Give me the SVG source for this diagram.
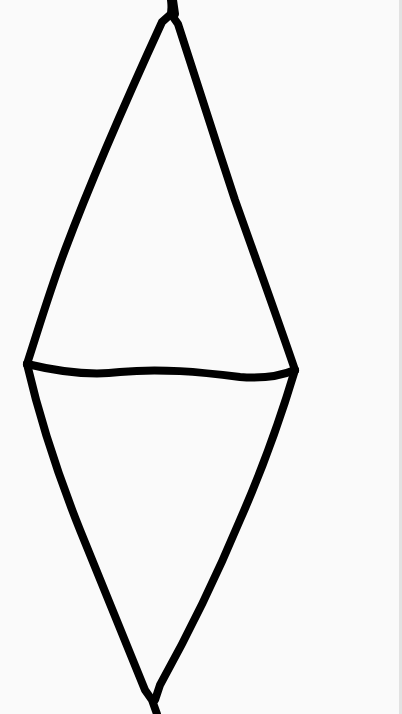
<svg xmlns="http://www.w3.org/2000/svg" width="402" height="714" viewBox="0 0 402 714">
<style>
.s{fill:none;stroke:#000;stroke-width:8;stroke-linecap:round;stroke-linejoin:round}
</style>
<rect x="0" y="0" width="402" height="714" fill="#fafafa"/>
<rect x="399" y="0" width="3" height="714" fill="#e2e2e2"/>
<g id="shape">
<path class="s" d="M172,0 L171,14 L162,22 C140,70 95,170 65,250 C50,290 38,330 27,364"/>
<path class="s" d="M171,14 L178,24 C195,75 215,140 235,200 C258,265 278,320 295,370"/>
<path class="s" d="M172,0 L174,14" style="stroke-width:10"/>
<path class="s" d="M27,364 C60,372 90,376 120,372 C160,368 200,372 240,377 C265,379 283,375 295,370"/>
<path class="s" d="M27,364 C40,420 60,480 80,530 C100,580 125,640 145,690 L152,700 L157,714"/>
<path class="s" d="M295,370 C280,420 262,470 240,520 C215,580 185,640 160,685 L155,700"/>
</g>
</svg>
